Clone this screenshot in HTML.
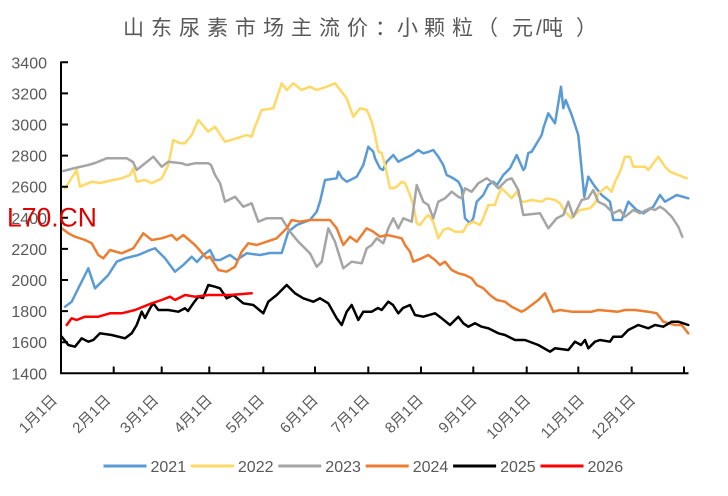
<!DOCTYPE html>
<html>
<head>
<meta charset="utf-8">
<style>
  html,body{margin:0;padding:0;background:#fff;}
  svg{display:block;}
  text{font-family:"Liberation Sans","Noto Sans CJK SC",sans-serif;}
</style>
</head>
<body>
<svg width="728" height="496" viewBox="0 0 728 496" xmlns="http://www.w3.org/2000/svg">
  <rect width="728" height="496" fill="#fff"/>
  <!-- Title -->
  <text x="123 151 179 207 235 263 291 319 347 375 397 424 452 477 512 536 542 576" y="35" font-size="21" fill="#595959">山东尿素市场主流价：小颗粒（元/吨）</text>

  <!-- Y labels -->
  <g font-size="16" fill="#595959" text-anchor="end">
    <text x="47" y="68.3">3400</text>
    <text x="47" y="99.4">3200</text>
    <text x="47" y="130.5">3000</text>
    <text x="47" y="161.6">2800</text>
    <text x="47" y="192.7">2600</text>
    <text x="47" y="223.8">2400</text>
    <text x="47" y="254.9">2200</text>
    <text x="47" y="286">2000</text>
    <text x="47" y="317.1">1800</text>
    <text x="47" y="348.2">1600</text>
    <text x="47" y="379.3">1400</text>
  </g>

  <!-- Series -->
  <g fill="none" stroke-width="2.5" stroke-linejoin="round" stroke-linecap="round">
    <polyline stroke="#5B9BD5" points="65,306.7 71.7,301.7 78.3,288.3 85,275 88.3,268.3 95,288.3 101.7,281.7 108.3,275 116.7,261.7 125,258.3 138.3,255 150,250 155,248.3 165,258.3 175,271.7 183.3,265 191.7,256.7 197,262 203.3,255 210,250 215,260 220,260 230,255 236.7,260 246.7,253.3 260,255 270,253 281.7,253 288.3,231.7 296.7,225 310,220 316.7,211.7 320,201.7 325,180 336.7,178.3 338.3,171.7 342,178 346.7,181.7 356.7,176.7 363.3,165 368.3,146.7 373.3,151.7 375,158.3 380,168.3 383,170 386.7,161.7 393.3,155 398.3,161.7 405,158.3 411.7,155 418.3,150 423.3,153.3 428,152 433.3,150 438.3,156.7 443.3,165 446.7,175 453.3,178.3 458.3,181.7 461.7,188.3 465,218.3 470,223.3 473.3,218.3 476.7,201.7 483.3,195 488.3,185 493.3,181.7 497,185 503.3,175 510,168.3 516.7,155 523.3,170 525,168 528.3,153 531.7,151.7 541.7,135 543.3,128.3 548.3,113.3 555,123.3 558.3,103.3 561,86.7 563.3,108.3 565.7,100 571.7,115 578.3,135 584.3,196.7 588.3,176.7 595,186.7 601.7,195 610,201.7 613.3,220 621.7,220 628.3,201.7 636.7,210 643.3,213.3 653.3,206.7 660,195 665,201.7 676.7,195 688.3,198.3"/>
    <polyline stroke="#FFD966" points="65,188.3 76.7,170 80,186.7 91.7,181.7 100,183 113.3,180 121.7,178.3 130,175 133.3,168.3 136.7,181.7 145,180 151.7,183.3 161.7,178.3 168.3,165 173.3,140 180,143.3 185,143.3 191.7,135 198.3,120 208.3,131.7 215,126.7 225,141.7 236.7,138.3 246.7,135 251.7,136.7 255,126.7 261.7,110 273.3,108.3 276.7,98.3 281.7,83.3 286.7,90 293.3,83.3 301.7,90 310,86.7 316.7,90 326.7,86.7 335,83.3 346.7,98.3 353.3,116.7 360,108.3 366.7,110 368.3,113.3 371.7,121.7 375,135 378.3,151.7 381.7,153 385,165 390,188.3 393,188.3 396.7,186.7 401.7,181.7 405,183 410,195 413.3,205 416.7,223.3 420,225 425,218.3 428.3,215 433.3,221.7 438.3,238.3 443.3,230 448,228 455,231.7 463.3,231.7 466.7,225 473.3,221.7 480,225 483.3,218.3 488.3,205 495,205 498.3,195 501.7,188.3 506.7,193.3 511.7,198.3 516.7,191.7 521.7,201.7 525,201.7 531.7,200 541.7,201.7 546.7,198.3 555,200 560,203.3 565,211.7 571.7,218.3 580,210 590,208.3 595,203.3 598.3,193.3 606.7,186.7 611.7,191.7 615,181.7 620,171.7 625,156.7 630,156.7 633.3,166.7 645,166.7 648.3,170 653.3,163.3 658.3,156.7 665,166.7 670,171.7 678.3,175 686.7,178.3"/>
    <polyline stroke="#A5A5A5" points="63.3,171 75,168 88.3,165 95,163 106.7,158.3 126.7,158.3 133,162 136.7,170 143,165 153.3,156.7 161.7,166.7 168.3,161.7 181.7,163.3 186.7,165 195,163.3 208.3,163.3 211,165 215,175 220,183 225,201.7 235,196.7 243.3,206.7 251.7,203.3 258.3,221.7 266.7,218.3 281.7,218.3 290,231.7 298.3,241.7 310,253.3 316.7,266.7 321.7,261.7 328.3,228.3 335,241.7 343.3,268.3 351.7,261.7 361.7,263.3 366.7,248.3 371.7,245 376.7,238.3 383.3,243.3 388.3,228.3 393.3,218.3 398.3,228.3 403.3,218.3 411.7,221.7 416.7,185 423.3,201.7 428.3,205 433.3,218.3 438.3,201.7 445,198.3 451.7,191.7 458.3,196.7 461.7,198.3 465,188.3 471.7,191.7 478.3,183.3 486.7,178.3 493.3,183.3 498.3,188.3 506.7,180 511.7,178.3 518.3,190 523.3,215 540,213.3 548.3,228.3 556.7,218.3 563.3,215 568.3,201.7 573.3,216.7 581.7,200 588,198.3 593.3,190 598.3,201.7 605,205 613.3,213.3 620,210 625,216.7 633.3,210 640,213.3 650,208.3 655,210 660,206.7 665,210 671.7,216.7 678.3,226.7 682.3,236.7"/>
    <polyline stroke="#ED7D31" points="61.7,228.3 68.3,233.3 75,236.7 85,240 91.7,243.3 98.3,255 103.3,258.3 110,250 121.7,253.3 133.3,248.3 143.3,233.3 151.7,240 161.7,238.3 171.7,235 176.7,240 183.3,235 195,245 206.7,258.3 210,256.7 218.3,270 226.7,271.7 235,266.7 241.7,251.7 248.3,243.3 256.7,245 266.7,241.7 276.7,238.3 286.7,228.3 291.7,220 300,221.7 310,220 330,220 336.7,228.3 343.3,245 350,236.7 356.7,241.7 366.7,228.3 373.3,231.7 380,236.7 386.7,235 395,236.7 401.7,238.3 405,245 410,251.7 413.3,261.7 421.7,258.3 428.3,255 435,260 440,265 445,261.7 451.7,270 458.3,273.3 465,275 471.7,278.3 476.7,285 483.3,288.3 490,295 496.7,300 505,301.7 511.7,306.7 521.7,311.7 525,310 531.7,305 538.3,300 545,293.3 553.3,311.7 560,310 571.7,311.7 591.7,311.7 598.3,310 618,311.7 625,310 635,310 648.3,311.7 656.7,313.3 663.3,321.7 675,325 681.7,325 688.3,333.3"/>
    <polyline stroke="#000000" points="61.7,336.7 68.3,345 75,346.7 81.7,338.3 88.3,341.7 93.3,340 100,333.3 111.7,335 125,338.3 131.7,333.3 136.7,325 141.7,311.7 145,318 150,308.3 153.3,303.3 158.3,310 168.3,310 178.3,311.7 185,308.3 188,311 193.3,303.3 198.3,296.7 203,298 208.3,285 215,286.7 220,288.3 226.7,298.3 233.3,295 243.3,303.3 253.3,305 263.3,313.3 268.3,301.7 276.7,295 286.7,285 295,293.3 303.3,298.3 313.3,301.7 320,298.3 328.3,303.3 336.7,318.3 341.7,325 346.7,311.7 351.7,305 358.3,320 363.3,311.7 371.7,311.7 378,308 381.7,310 388.3,301.7 393,305 398.3,313.3 403,308 410,305 415,315 423.3,316.7 435,313.3 441.7,318.3 450,325 458.3,316.7 463.3,323.3 468.3,326.7 475,323.3 481.7,326.7 488.3,328.3 498.3,333.3 505,335 515,340 525,340 538.3,345 550,351.7 555,348.3 568.3,350 575,341.7 581,345 585,340 588.3,348.3 595,341.7 600,340 610,341.7 613.3,336.7 621.7,336.7 628.3,330 638.3,325 648.3,328.3 655,325 663.3,326.7 671.7,321.7 678.3,321.7 688.3,325"/>
    <polyline stroke="#FF0000" points="66.7,325 71.7,318.3 76.7,320 85,316.7 98.3,316.7 110,313.3 121.7,313.3 135,310 151.7,303.3 161.7,300 170,296.7 175,300 185,295 195,296.7 208.3,295 230,295 251.7,293.3"/>
  </g>

  <!-- Axes -->
  <g stroke="#000" stroke-width="2" fill="none">
    <line x1="61" y1="61.5" x2="61" y2="374"/>
    <line x1="60" y1="373.3" x2="688.5" y2="373.3"/>
    <path d="M61 62.3H68 M61 93.4H68 M61 124.5H68 M61 155.6H68 M61 186.7H68 M61 217.8H68 M61 248.9H68 M61 280H68 M61 311.1H68 M61 342.2H68"/>
    <path d="M113.7 373V366.5 M161.7 373V366.5 M209.3 373V366.5 M263.3 373V366.5 M315 373V366.5 M368.3 373V366.5 M421 373V366.5 M473.3 373V366.5 M526.7 373V366.5 M578.3 373V366.5 M631.7 373V366.5 M684 373V366.5"/>
  </g>

  <!-- X labels -->
  <g font-size="15" fill="#595959" text-anchor="end">
    <text transform="translate(58,401) rotate(-45)">1月1日</text>
    <text transform="translate(111.5,401) rotate(-45)">2月1日</text>
    <text transform="translate(159.3,401) rotate(-45)">3月1日</text>
    <text transform="translate(213,401) rotate(-45)">4月1日</text>
    <text transform="translate(265,401) rotate(-45)">5月1日</text>
    <text transform="translate(319,401) rotate(-45)">6月1日</text>
    <text transform="translate(370.4,401) rotate(-45)">7月1日</text>
    <text transform="translate(424,401) rotate(-45)">8月1日</text>
    <text transform="translate(477.7,401) rotate(-45)">9月1日</text>
    <text transform="translate(531.4,401) rotate(-45)">10月1日</text>
    <text transform="translate(585,401) rotate(-45)">11月1日</text>
    <text transform="translate(636.4,401) rotate(-45)">12月1日</text>
  </g>

  <!-- Watermark -->
  <text x="7" y="226.7" font-size="26.5" fill="#E00000">L70.CN</text>

  <!-- Legend -->
  <g stroke-width="3" stroke-linecap="butt">
    <line x1="103.5" y1="466" x2="146.5" y2="466" stroke="#5B9BD5"/>
    <line x1="190.9" y1="466" x2="233.9" y2="466" stroke="#FFD966"/>
    <line x1="278.3" y1="466" x2="321.3" y2="466" stroke="#A5A5A5"/>
    <line x1="365.7" y1="466" x2="408.7" y2="466" stroke="#ED7D31"/>
    <line x1="453.1" y1="466" x2="496.1" y2="466" stroke="#000000"/>
    <line x1="540.5" y1="466" x2="583.5" y2="466" stroke="#FF0000"/>
  </g>
  <g font-size="16" fill="#595959">
    <text x="150.5" y="472">2021</text>
    <text x="237.9" y="472">2022</text>
    <text x="325.3" y="472">2023</text>
    <text x="412.7" y="472">2024</text>
    <text x="500.1" y="472">2025</text>
    <text x="587.5" y="472">2026</text>
  </g>
</svg>
</body>
</html>
